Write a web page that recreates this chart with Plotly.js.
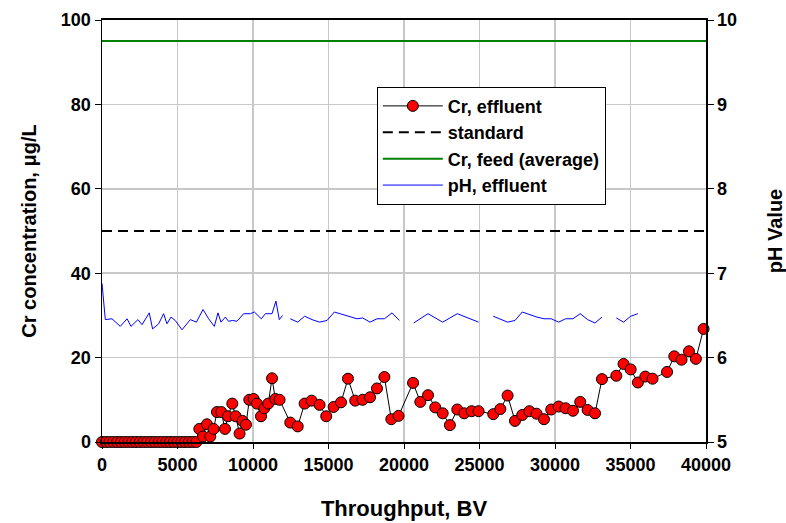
<!DOCTYPE html>
<html><head><meta charset="utf-8">
<script src="https://cdn.plot.ly/plotly-3.0.1.min.js"></script>
<style>html,body{margin:0;padding:0;background:#fff}#chart{width:786px;height:523px}</style>
</head><body><div id="chart"></div>
<script>
const crBV = [0,250,500,750,1000,1250,1500,1750,2000,2250,2500,2750,3000,3250,3500,3750,4000,4250,4500,4750,5000,5250,5500,5750,6000,6250,
 6445,6690,6950,7170,7390,7615,7900,8145,8345,8630,8850,9110,9310,9535,9755,10040,10260,10530,10750,11010,11260,11480,11760,
 12470,12960,13420,13880,14410,14850,15340,15830,16290,16770,17260,17750,18210,18700,19160,19640,
 20600,21080,21590,22070,22560,23040,23530,23990,24480,24940,25910,26380,26860,27350,27830,28300,28780,29270,29750,
 30240,30700,31190,31670,32160,32650,33110,34060,34540,35010,35490,35980,36460,37420,37900,38380,38870,39330,39840];
const crVal = [0,0,0,0,0,0,0,0,0,0,0,0,0,0,0,0,0,0,0,0,0,0,0,0,0,0,
 3.1,1.3,4.2,1.3,3.1,7.1,7.1,3.1,6.1,9.1,6.1,2.0,5.0,4.1,10.0,10.2,9.1,6.1,8.0,9.1,15.1,10.2,10.0,
 4.6,3.7,9.1,9.8,8.8,6.1,8.3,9.4,15.0,9.8,10.0,10.6,12.7,15.4,5.4,6.2,
 14.0,9.5,11.1,8.2,6.8,4.0,7.7,6.8,7.3,7.3,6.6,7.8,11.0,5.0,6.4,7.3,6.7,5.4,7.7,
 8.4,8.0,7.4,9.5,7.6,6.8,14.9,15.7,18.5,17.2,14.1,15.5,15.0,16.6,20.3,19.5,21.5,19.7,26.8];
const phBV = [0,220,660,1210,1660,1920,2380,2650,3130,3350,3750,4080,4300,4570,4850,5300,5850,6250,6690,7060,7440,7680,7880,8170,8380,8650,8940,9380,9820,10090,10550,10820,11260,11520,11740,11960,
 12200,
 12470,12960,13420,13910,14410,14900,15390,15900,16400,16890,17260,17750,18210,18700,19210,19690,
 20100,
 20640,21590,22560,23530,24940,
 25400,
 25910,26860,27350,27830,28810,29270,29750,30240,30700,31190,31670,32160,32650,33110,
 33600,
 34060,34540,35010,35490];
const phVal = [6.88,6.45,6.46,6.37,6.46,6.37,6.45,6.39,6.53,6.34,6.40,6.52,6.40,6.48,6.44,6.33,6.45,6.42,6.57,6.46,6.37,6.53,6.42,6.48,6.43,6.44,6.43,6.52,6.52,6.54,6.46,6.52,6.52,6.67,6.45,6.50,
 null,
 6.46,6.42,6.49,6.45,6.42,6.44,6.54,6.51,6.48,6.46,6.47,6.42,6.46,6.46,6.53,6.44,
 null,
 6.41,6.52,6.42,6.52,6.42,
 null,
 6.49,6.42,6.44,6.54,6.48,6.46,6.46,6.42,6.46,6.46,6.52,6.45,6.41,6.48,
 null,
 6.47,6.42,6.49,6.52];
const stdBV = [0,40000];
const stdVal = [50,50];
const feedBV = [0,40000];
const feedVal = [95,95];
const xTicks = [0,5000,10000,15000,20000,25000,30000,35000,40000];

const F = 'Liberation Sans, Arial, sans-serif';
const traces = [
 {x: phBV, y: phVal, yaxis: 'y2', type: 'scatter', mode: 'lines', name: 'pH, effluent',
  line: {color: '#0000ff', width: 1}, connectgaps: false, legendrank: 4},
 {x: stdBV, y: stdVal, type: 'scatter', mode: 'lines', name: 'standard',
  line: {color: '#000000', width: 2, dash: '10px,6px'}, legendrank: 2},
 {x: feedBV, y: feedVal, type: 'scatter', mode: 'lines', name: 'Cr, feed (average)',
  line: {color: '#008000', width: 2}, legendrank: 3},
 {x: crBV, y: crVal, type: 'scatter', mode: 'lines+markers', name: 'Cr, effluent',
  line: {color: '#000000', width: 1},
  marker: {color: '#ff0000', size: 11, line: {color: '#000000', width: 1}},
  cliponaxis: false, legendrank: 1}
];
const layout = {
 width: 786, height: 523,
 margin: {l: 102, r: 80, t: 20, b: 81},
 paper_bgcolor: '#ffffff', plot_bgcolor: '#ffffff',
 font: {family: F, color: '#000', size: 17, weight: 'bold'},
 showlegend: true,
 legend: {x: 0.455, y: 0.842, xanchor: 'left', yanchor: 'top', bgcolor: '#ffffff',
  bordercolor: '#000', borderwidth: 1, font: {family: F, size: 18, weight: 'bold'},
  tracegroupgap: 0, itemwidth: 60, entrywidth: 250, entrywidthmode: 'pixels'},
 xaxis: {range: [0, 40000], tickvals: xTicks, ticktext: xTicks.map(String),
  showgrid: true, gridcolor: '#c8c8c8', gridwidth: 1.5,
  showline: true, linecolor: '#000', linewidth: 2, mirror: true,
  ticks: 'outside', ticklen: 5, tickcolor: '#000', zeroline: false,
  tickfont: {family: F, size: 18, weight: 'bold'},
  title: {text: 'Throughput, BV', font: {family: F, size: 22, weight: 'bold'}, standoff: 27}},
 yaxis: {range: [0, 100], dtick: 20, showgrid: true, gridcolor: '#c8c8c8', gridwidth: 1.5,
  showline: true, linecolor: '#000', linewidth: 1.5, ticks: 'outside', ticklen: 6, tickcolor: '#000',
  zeroline: false, tickfont: {family: F, size: 18, weight: 'bold'},
  title: {text: 'Cr concentration, μg/L', font: {family: F, size: 20, weight: 'bold'}, standoff: 19}},
 yaxis2: {range: [5, 10], dtick: 1, overlaying: 'y', side: 'right', showgrid: false,
  showline: true, linecolor: '#000', linewidth: 1.5, ticks: 'outside', ticklen: 6, tickcolor: '#000',
  zeroline: false, tickfont: {family: F, size: 18, weight: 'bold'},
  title: {text: 'pH Value', font: {family: F, size: 20, weight: 'bold'}, standoff: 35}}
};
Plotly.newPlot('chart', traces, layout, {displayModeBar: false, staticPlot: true});
</script></body></html>
